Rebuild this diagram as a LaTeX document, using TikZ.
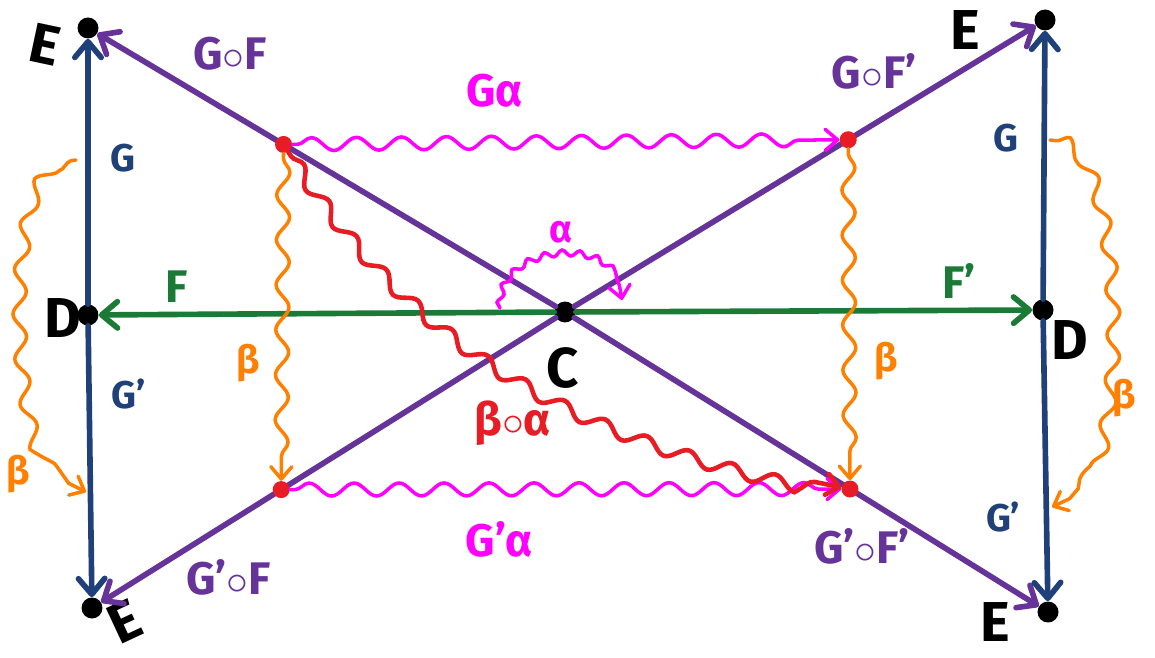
\documentclass[tikz,border=0pt]{standalone}
\usepackage{fontspec}
\setmainfont{Fira Sans}
\usetikzlibrary{arrows.meta, positioning, calc, decorations.pathmorphing}
\definecolor{gC}    {RGB}{ 31,  64, 120}
\definecolor{fC}    {RGB}{ 26, 122,  54}
\definecolor{compC} {RGB}{102,  51, 153}
\definecolor{alphaC}{RGB}{255,   0, 255}
\definecolor{betaC} {RGB}{255, 127,   0}
\definecolor{hcompC}{RGB}{232,  28,  36}
\tikzset{
  obj/.style    = {circle, fill=black, inner sep=0pt, minimum size=0.42cm},
  whisk/.style  = {circle, fill=hcompC, inner sep=0pt, minimum size=0.34cm},
  objlbl/.style = {font=\fontsize{32}{34}\selectfont\bfseries, text=black},
  lbl/.style    = {font=\fontsize{26}{28}\selectfont\bfseries},
  slbl/.style   = {font=\fontsize{22}{24}\selectfont\bfseries},
  arr/.style    = {-{Straight Barb[length=9pt, width=15pt, round]}, line width=3.2pt, line cap=round},
  warr/.style   = {-{Straight Barb[length=7pt, width=12pt, round]}, line width=2pt, line cap=round},
  wavy/.style   = {decorate, decoration={snake, amplitude=1.3mm, segment length=9mm,
                   pre length=1mm, post length=4mm}},
}

\begin{document}
\begin{tikzpicture}[x=0.02cm, y=-0.02cm]
\useasboundingbox (0,0) rectangle (1155,658);

% ---- Objects -----------------------------------------------------------------
\node[obj] (C)   at (565,312)  {};
\node[obj] (DL)  at (88,315)   {};
\node[obj] (DR)  at (1043,310) {};
\node[obj] (EtL) at (88,28)    {};
\node[obj] (EbL) at (92,608)   {};
\node[obj] (EtR) at (1045,20)  {};
\node[obj] (EbR) at (1048,612) {};

\node[objlbl, rotate=-12] (lEtL) at (45,45)   {E};
\node[objlbl, rotate=25]  (lEbL) at (125,622) {E};
\node[objlbl]             (lEtR) at (965,30)  {E};
\node[objlbl]             (lEbR) at (995,622) {E};
\node[objlbl]             (lDL)  at (63,318)  {D};
\node[objlbl]             (lDR)  at (1070,340){D};
\node[objlbl]             (lC)   at (563,368) {C};

% ---- 1-cells ------------------------------------------------------------------
\draw[arr, compC] (C) -- node[lbl, pos=0.71, above=19pt]{G$\circ$F}   (EtL);
\draw[arr, compC] (C) -- node[lbl, pos=0.72, below=16pt]{G’$\circ$F}  (EbL);
\draw[arr, compC] (C) -- node[lbl, pos=0.65, above=15pt]{G$\circ$F’}  (EtR);
\draw[arr, compC] (C) -- node[lbl, pos=0.62, below=13pt]{G’$\circ$F’} (EbR);

\draw[arr, fC] (C) -- node[lbl, pos=0.83, above=2pt]{F}  (DL);
\draw[arr, fC] (C) -- node[lbl, pos=0.84, above=2pt]{F’} (DR);

\draw[arr, gC] (DL) -- node[slbl, right=8pt, pos=0.55]{G}  (EtL);
\draw[arr, gC] (DL) -- node[slbl, right=8pt, pos=0.25]{G’} (EbL);
\draw[arr, gC] (DR) -- node[slbl, left=10pt, pos=0.6]{G}   (EtR);
\draw[arr, gC] (DR) -- node[slbl, left=10pt, pos=0.7]{G’}  (EbR);

% ---- Whiskerings ---------------------------------------------------------------
\node[whisk] (wL1) at ($(C)!0.59!(EtL)$) {};
\node[whisk] (wL2) at ($(C)!0.60!(EbL)$) {};
\node[whisk] (wR1) at ($(C)!0.59!(EtR)$) {};
\node[whisk] (wR2) at ($(C)!0.59!(EbR)$) {};

\coordinate (bLs) at (76,160);
\coordinate (bLe) at (86,492);
\coordinate (bRs) at (1050,140);
\coordinate (bRe) at (1052,507);
\coordinate (aS)  at (500,308);
\coordinate (aE)  at (622,300);

% ---- 2-cells -------------------------------------------------------------------
\draw[warr, alphaC, wavy] (wL1) -- node[lbl, pos=0.37, above=16pt]{Gα}  (wR1);
\draw[warr, alphaC, wavy] (wL2) -- node[lbl, pos=0.38, below=14pt]{G’α} (wR2);
\draw[warr, alphaC, decorate, decoration={snake, amplitude=0.6mm, segment length=3.5mm,
      post length=3mm}] (aS) to[out=90, in=90, looseness=1.3]
      node[slbl, above=4pt]{α} (aE);

\draw[warr, betaC, wavy] (wL1) -- node[slbl, left=8pt, pos=0.64]{β}  (wL2);
\draw[warr, betaC, wavy] (wR1) -- node[slbl, right=10pt, pos=0.64]{β} (wR2);
\draw[warr, betaC, wavy] (bLs) to[out=180, in=180, looseness=0.5]
      node[slbl, pos=0.86, left=14pt]{β} (bLe);
\draw[warr, betaC, wavy] (bRs) to[out=0, in=0, looseness=0.5]
      node[slbl, pos=0.64, right=2pt]{β} (bRe);

\draw[warr, hcompC, line width=2.6pt, wavy] (wL1) .. controls (420,360) and (600,440) ..
      node[lbl, pos=0.52, below left=4pt and -14pt]{β$\circ$α} (wR2);

\end{tikzpicture}
\end{document}
